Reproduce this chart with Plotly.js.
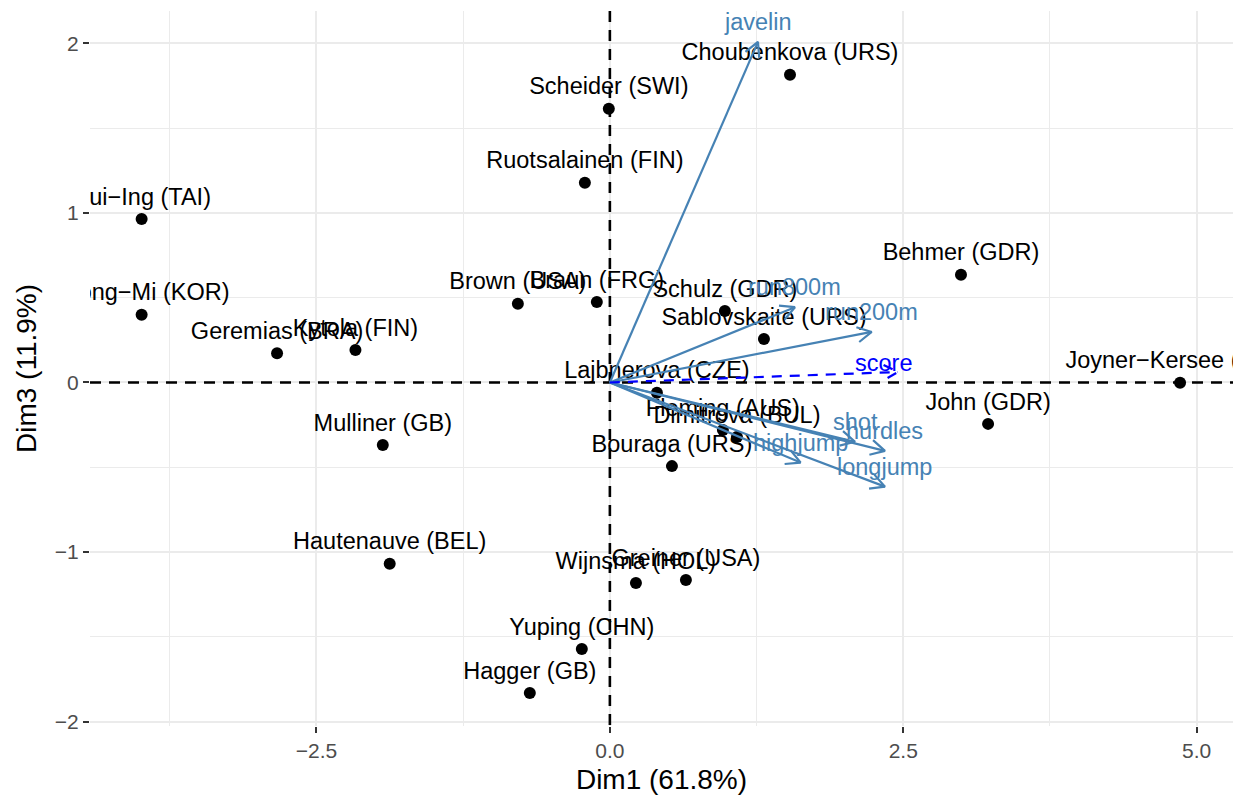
<!DOCTYPE html>
<html>
<head>
<meta charset="utf-8">
<script src="https://cdn.plot.ly/plotly-3.0.1.min.js"></script>
<style>
  html, body { margin: 0; padding: 0; background: #ffffff; }
  #chart { width: 1239px; height: 801px; }
</style>
</head>
<body>
<div id="chart"></div>
<script>
// PCA biplot of the heptathlon results: individuals and variables on Dim1 / Dim3.

// Individuals (athletes) and their coordinates
const athletes = [
  "Joyner−Kersee (USA)", "John (GDR)", "Behmer (GDR)", "Sablovskaite (URS)",
  "Choubenkova (URS)", "Schulz (GDR)", "Fleming (AUS)", "Greiner (USA)",
  "Lajbnerova (CZE)", "Bouraga (URS)", "Wijnsma (HOL)", "Dimitrova (BUL)",
  "Scheider (SWI)", "Braun (FRG)", "Ruotsalainen (FIN)", "Yuping (CHN)",
  "Hagger (GB)", "Brown (USA)", "Mulliner (GB)", "Hautenauve (BEL)",
  "Kytola (FIN)", "Geremias (BRA)", "Hui−Ing (TAI)", "Jeong−Mi (KOR)"
];
const athleteDim1 = [
  4.859, 3.223, 2.992, 1.313,
  1.535, 0.980, 0.963, 0.648,
  0.401, 0.529, 0.222, 1.083,
  -0.009, -0.111, -0.213, -0.239,
  -0.682, -0.784, -1.935, -1.876,
  -2.168, -2.836, -3.990, -3.990
];
const athleteDim3 = [
  -0.002, -0.244, 0.635, 0.257,
  1.814, 0.422, -0.280, -1.164,
  -0.061, -0.493, -1.182, -0.321,
  1.614, 0.475, 1.178, -1.571,
  -1.830, 0.464, -0.368, -1.069,
  0.192, 0.173, 0.964, 0.399
];

// Active variables (arrow tips)
const variables = ["javelin", "run800m", "run200m", "shot", "hurdles", "highjump", "longjump"];
const varDim1 = [1.262, 1.577, 2.231, 2.089, 2.344, 1.625, 2.344];
const varDim3 = [2.008, 0.444, 0.298, -0.349, -0.403, -0.472, -0.614];

// Supplementary variable
const supVariables = ["score"];
const supDim1 = [2.455];
const supDim3 = [0.062];

// Axis setup
const xRange = [-4.43, 5.31];
const yRange = [-2.025, 2.19];
const W = 1239, H = 801;
const margin = { l: 90, r: 6, t: 11, b: 75 };
const plotW = W - margin.l - margin.r;
const plotH = H - margin.t - margin.b;
const pxPerX = plotW / (xRange[1] - xRange[0]);
const pxPerY = plotH / (yRange[1] - yRange[0]);

const FONT = "Liberation Sans, Arial, Helvetica, sans-serif";
const STEEL = "#4682B4";
const BLUE = "#0000FF";

// Build an open-headed arrow from the origin to (x, y)
function arrowPath(x, y, headPx, angleDeg) {
  const ang = Math.atan2(y * pxPerY, x * pxPerX);
  const phi = angleDeg * Math.PI / 180;
  const b1 = [x - headPx * Math.cos(ang - phi) / pxPerX, y - headPx * Math.sin(ang - phi) / pxPerY];
  const b2 = [x - headPx * Math.cos(ang + phi) / pxPerX, y - headPx * Math.sin(ang + phi) / pxPerY];
  return {
    x: [0, x, null, b1[0], x, b2[0]],
    y: [0, y, null, b1[1], y, b2[1]]
  };
}

const traces = [];

// Dashed reference lines through the origin
traces.push({
  type: "scatter", mode: "lines",
  x: [xRange[0], xRange[1]], y: [0, 0],
  line: { color: "#000000", width: 2.6, dash: "11px,8px" },
  hoverinfo: "skip", showlegend: false
});
traces.push({
  type: "scatter", mode: "lines",
  x: [0, 0], y: [yRange[1], yRange[0]],
  line: { color: "#000000", width: 2.6, dash: "11px,8px" },
  hoverinfo: "skip", showlegend: false
});

// Individuals: points with labels above
traces.push({
  type: "scatter",
  mode: "markers+text",
  x: athleteDim1,
  y: athleteDim3,
  text: athletes,
  textposition: "top center",
  textfont: { family: FONT, size: 23.5, color: "#000000" },
  marker: { color: "#000000", size: 12 },
  cliponaxis: true,
  hoverinfo: "text",
  showlegend: false
});

// Active variable arrows
variables.forEach((v, i) => {
  const p = arrowPath(varDim1[i], varDim3[i], 16, 28);
  traces.push({
    type: "scatter", mode: "lines", x: p.x, y: p.y,
    line: { color: STEEL, width: 2.2 },
    hoverinfo: "skip", showlegend: false
  });
});

// Supplementary variable arrow (dashed)
supVariables.forEach((v, i) => {
  const p = arrowPath(supDim1[i], supDim3[i], 16, 28);
  traces.push({
    type: "scatter", mode: "lines", x: p.x, y: p.y,
    line: { color: BLUE, width: 2.2, dash: "10px,8px" },
    hoverinfo: "skip", showlegend: false
  });
});

// Variable labels
const annotations = [];
variables.forEach((v, i) => {
  annotations.push({
    x: varDim1[i], y: varDim3[i], xref: "x", yref: "y",
    text: v, showarrow: false, yshift: 20,
    font: { family: FONT, size: 23.5, color: STEEL }
  });
});
supVariables.forEach((v, i) => {
  annotations.push({
    x: supDim1[i], y: supDim3[i], xref: "x", yref: "y",
    text: v, showarrow: false, yshift: 9, xshift: -14,
    font: { family: FONT, size: 23.5, color: BLUE }
  });
});

const axisCommon = {
  showline: false,
  zeroline: false,
  showgrid: true,
  gridcolor: "#EBEBEB",
  gridwidth: 2,
  ticks: "outside",
  ticklen: 6,
  tickwidth: 2,
  tickcolor: "#333333",
  tickfont: { family: FONT, size: 21, color: "#4D4D4D" }
};

const layout = {
  width: W,
  height: H,
  margin: margin,
  paper_bgcolor: "#FFFFFF",
  plot_bgcolor: "#FFFFFF",
  showlegend: false,
  xaxis: Object.assign({}, axisCommon, {
    range: xRange,
    tickmode: "linear", tick0: 0, dtick: 2.5,
    tickformat: ".1f",
    minor: { dtick: 1.25, tick0: 0, showgrid: true, gridcolor: "#EBEBEB", gridwidth: 1, ticks: "" },
    title: { text: "Dim1 (61.8%)", font: { family: FONT, size: 28, color: "#000000" }, standoff: 8 }
  }),
  yaxis: Object.assign({}, axisCommon, {
    range: yRange,
    tickmode: "linear", tick0: 0, dtick: 1,
    minor: { dtick: 0.5, tick0: 0, showgrid: true, gridcolor: "#EBEBEB", gridwidth: 1, ticks: "" },
    title: { text: "Dim3 (11.9%)", font: { family: FONT, size: 28, color: "#000000" }, standoff: 10 }
  }),
  annotations: annotations
};

Plotly.newPlot("chart", traces, layout, { displayModeBar: false, staticPlot: true });
</script>
</body>
</html>
